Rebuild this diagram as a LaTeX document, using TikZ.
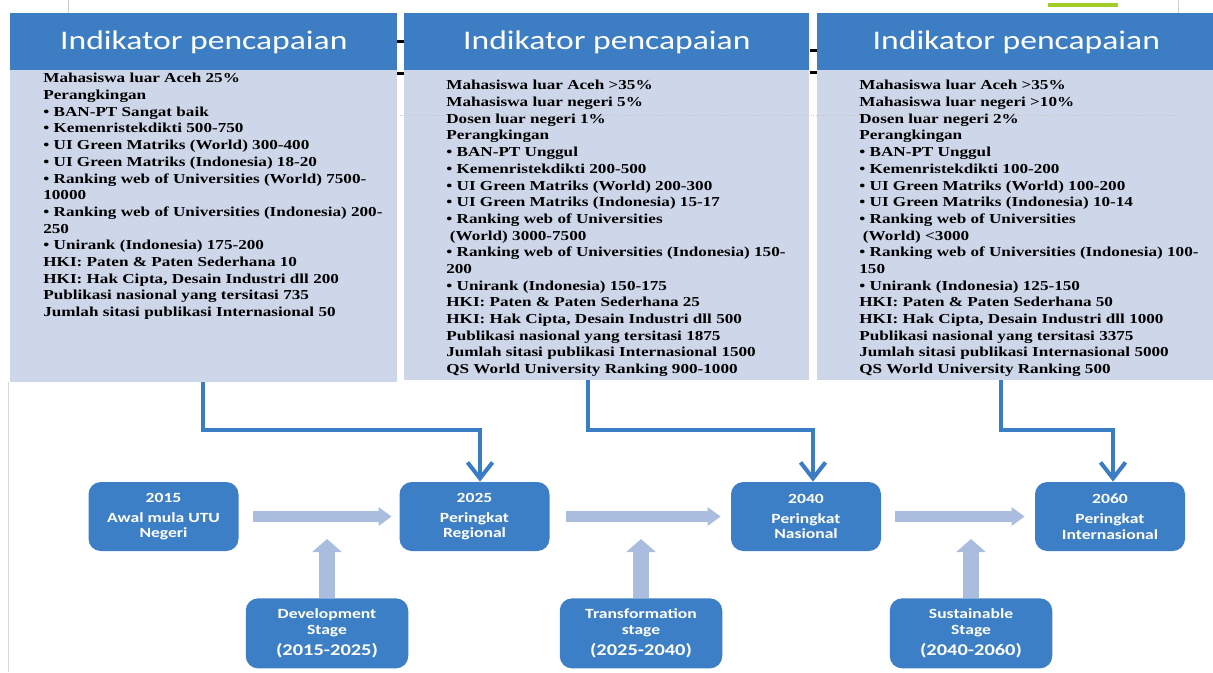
\documentclass[tikz,border=0pt]{standalone}
\usepackage{fontspec}
\setmainfont{Liberation Serif}[FakeStretch=1.25]
\newfontfamily\boxfont{Carlito}[FakeStretch=1.25]
\usetikzlibrary{arrows.meta}

\definecolor{hdrblue}{RGB}{60,125,196}
\definecolor{panelbg}{RGB}{205,215,233}
\definecolor{boxblue}{RGB}{61,127,198}
\definecolor{fatlight}{RGB}{170,189,222}
\definecolor{linkblue}{RGB}{58,125,196}
\definecolor{stray}{RGB}{160,205,40}

\tikzset{
  header/.style={fill=hdrblue, text=white, inner sep=0pt, anchor=north west,
    minimum height=1.14cm, font=\boxfont\fontsize{15.3}{18}\selectfont},
  panel/.style={fill=panelbg, inner sep=0pt, anchor=north west},
  paneltext/.style={anchor=north west, inner sep=0pt, align=left,
    font=\bfseries\fontsize{7.8}{9.5}\selectfont},
  yearbox/.style={fill=boxblue, rounded corners=7pt, minimum width=3cm,
    minimum height=1.38cm, align=center, text=white, inner sep=0pt,
    font=\boxfont\bfseries\fontsize{8}{8.9}\selectfont},
  stagebox/.style={yearbox, minimum width=3.25cm, minimum height=1.4cm, anchor=north},
  fatarrow/.style={draw=fatlight, line width=6.2pt, -{Triangle[length=7.4pt,width=10.2pt]}},
  uparrow/.style={draw=fatlight, line width=9.6pt, -{Triangle[length=7.4pt,width=16.4pt]}},
  link/.style={draw=linkblue, line width=2.3pt, -{Straight Barb[length=3.2mm,width=5mm]}}
}

\begin{document}
\begin{tikzpicture}

  \useasboundingbox (0,0) rectangle (24.26,-13.44);

  %% bits of the slide behind
  \draw[gray!40, thin] (1.36,0) -- (1.36,-0.26);
  \draw[gray!35, thin] (23.56,0) -- (23.56,-2.3);
  \draw[gray!30, thin] (0.16,-7.64) -- (0.16,-13.44);
  \draw[stray, line width=2pt] (20.96,-0.1) -- (22.36,-0.1);

  %% panels
  \node[panel, minimum width=7.74cm, minimum height=6.24cm] (body1) at (0.2,-1.4) {};
  \node[panel, minimum width=8.1cm, minimum height=6.2cm] (body2) at (8.08,-1.4) {};
  \node[panel, minimum width=7.96cm, minimum height=6.2cm] (body3) at (16.34,-1.4) {};

  \node[header, minimum width=7.74cm] (hdr1) at (0.2,-0.26) {Indikator pencapaian};
  \node[header, minimum width=8.1cm] (hdr2) at (8.08,-0.26) {Indikator pencapaian};
  \node[header, minimum width=7.96cm] (hdr3) at (16.34,-0.26) {Indikator pencapaian};

  \draw[gray!45, thin, densely dotted] (8.0,-2.3) -- (23.56,-2.3);
  \fill[black] (7.94,-0.8) rectangle (8.08,-0.86);
  \fill[black] (7.94,-1.43) rectangle (8.08,-1.49);
  \fill[black] (16.2,-0.97) rectangle (16.34,-1.03);
  \fill[black] (16.2,-1.41) rectangle (16.34,-1.47);

  \node[paneltext] (txt1) at (0.86,-1.46) {%
    Mahasiswa luar Aceh 25\%\\
    Perangkingan\\
    • BAN-PT Sangat baik\\
    • Kemenristekdikti 500-750\\
    • UI Green Matriks (World) 300-400\\
    • UI Green Matriks (Indonesia) 18-20\\
    • Ranking web of Universities (World) 7500-\\
    10000\\
    • Ranking web of Universities (Indonesia) 200-\\
    250\\
    • Unirank (Indonesia) 175-200\\
    HKI: Paten \& Paten Sederhana 10\\
    HKI: Hak Cipta, Desain Industri dll 200\\
    Publikasi nasional yang tersitasi 735\\
    Jumlah sitasi publikasi Internasional 50};

  \node[paneltext] (txt2) at (8.92,-1.6) {%
    Mahasiswa luar Aceh >35\%\\
    Mahasiswa luar negeri 5\%\\
    Dosen luar negeri 1\%\\
    Perangkingan\\
    • BAN-PT Unggul\\
    • Kemenristekdikti 200-500\\
    • UI Green Matriks (World) 200-300\\
    • UI Green Matriks (Indonesia) 15-17\\
    • Ranking web of Universities\\
    \hspace{2pt}(World) 3000-7500\\
    • Ranking web of Universities (Indonesia) 150-\\
    200\\
    • Unirank (Indonesia) 150-175\\
    HKI: Paten \& Paten Sederhana 25\\
    HKI: Hak Cipta, Desain Industri dll 500\\
    Publikasi nasional yang tersitasi 1875\\
    Jumlah sitasi publikasi Internasional 1500\\
    QS World University Ranking 900-1000};

  \node[paneltext] (txt3) at (17.18,-1.6) {%
    Mahasiswa luar Aceh >35\%\\
    Mahasiswa luar negeri >10\%\\
    Dosen luar negeri 2\%\\
    Perangkingan\\
    • BAN-PT Unggul\\
    • Kemenristekdikti 100-200\\
    • UI Green Matriks (World) 100-200\\
    • UI Green Matriks (Indonesia) 10-14\\
    • Ranking web of Universities\\
    \hspace{2pt}(World) <3000\\
    • Ranking web of Universities (Indonesia) 100-\\
    150\\
    • Unirank (Indonesia) 125-150\\
    HKI: Paten \& Paten Sederhana 50\\
    HKI: Hak Cipta, Desain Industri dll 1000\\
    Publikasi nasional yang tersitasi 3375\\
    Jumlah sitasi publikasi Internasional 5000\\
    QS World University Ranking 500};

  %% tahun
  \node[yearbox] (b2015) at (3.27,-10.33) {2015\\[2.5pt]Awal mula UTU\\Negeri};
  \node[yearbox] (b2025) at (9.49,-10.33) {2025\\[2.5pt]Peringkat\\Regional};
  \node[yearbox] (b2040) at (16.12,-10.33) {2040\\[2.5pt]Peringkat\\Nasional};
  \node[yearbox] (b2060) at (22.2,-10.33) {2060\\[2.5pt]Peringkat\\Internasional};

  %% tahap
  \node[stagebox] (dev) at (6.54,-11.96)
    {Development\\Stage\\[3pt]{\fontsize{9.3}{11}\selectfont (2015-2025)}};
  \node[stagebox] (trans) at (12.82,-11.96)
    {Transformation\\stage\\[3pt]{\fontsize{9.3}{11}\selectfont (2025-2040)}};
  \node[stagebox] (sust) at (19.42,-11.96)
    {Sustainable\\Stage\\[3pt]{\fontsize{9.3}{11}\selectfont (2040-2060)}};

  %% panah
  \draw[fatarrow, shorten <=0.29cm, shorten >=0.15cm] (b2015) -- (b2025);
  \draw[fatarrow, shorten <=0.33cm, shorten >=0.2cm] (b2025) -- (b2040);
  \draw[fatarrow, shorten <=0.28cm, shorten >=0.2cm] (b2040) -- (b2060);

  \coordinate (devtip) at (6.54,-10.78);
  \coordinate (transtip) at (12.82,-10.78);
  \coordinate (susttip) at (19.42,-10.78);
  \draw[uparrow] (dev) -- (devtip);
  \draw[uparrow] (trans) -- (transtip);
  \draw[uparrow] (sust) -- (susttip);

  \coordinate (s1) at (4.06,-7.64);
  \coordinate (s2) at (11.76,-7.6);
  \coordinate (s3) at (20.02,-7.6);
  \draw[link] (s1) -- (4.06,-8.6) -| ([xshift=0.11cm]b2025.north);
  \draw[link] (s2) -- (11.76,-8.6) -| ([xshift=0.14cm]b2040.north);
  \draw[link] (s3) -- (20.02,-8.6) -| ([xshift=0.06cm]b2060.north);

\end{tikzpicture}
\end{document}
